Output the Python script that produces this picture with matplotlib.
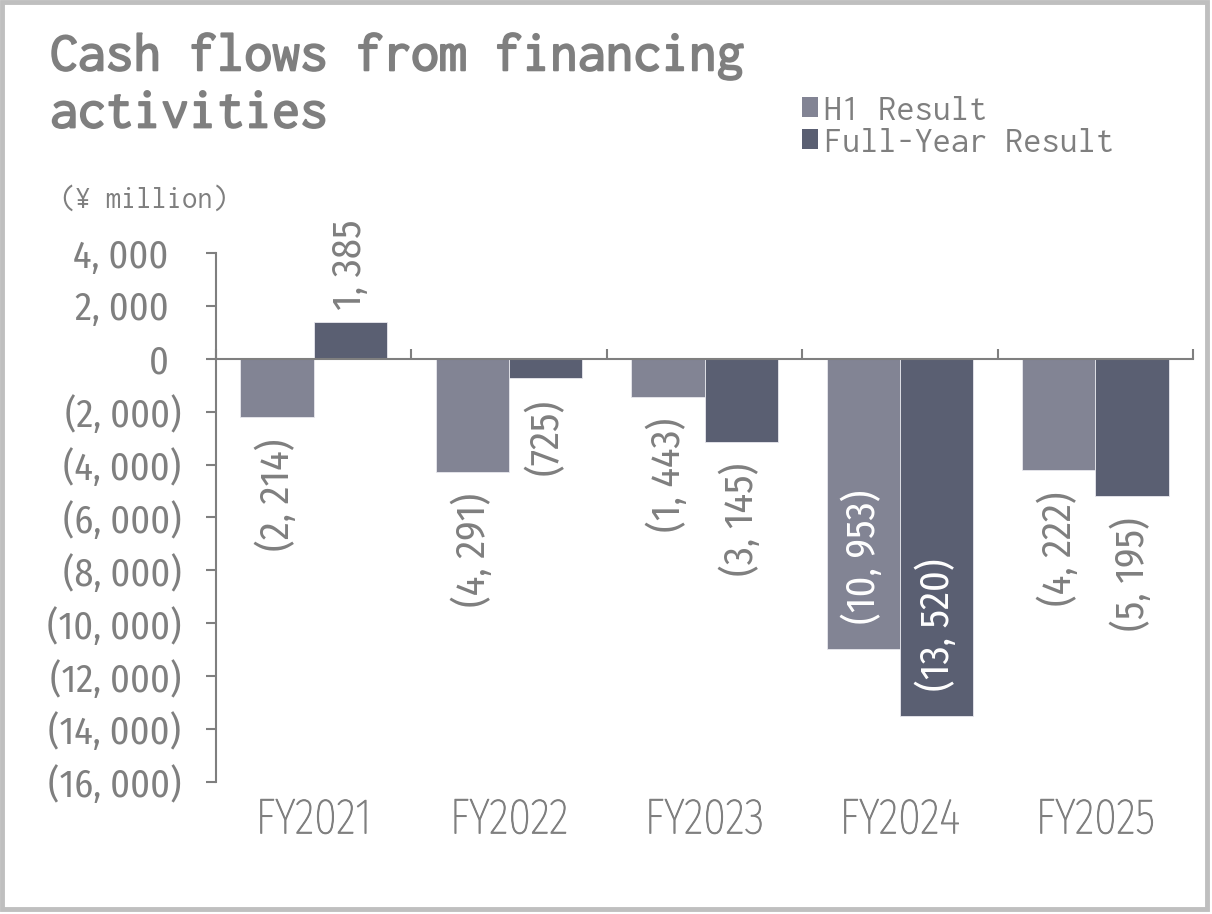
import matplotlib
matplotlib.use("Agg")
import matplotlib.pyplot as plt
from matplotlib import patheffects
from matplotlib.patches import Patch, Rectangle
from matplotlib.ticker import FuncFormatter, MultipleLocator, FixedLocator

# values in ¥ million
years = ["FY2021", "FY2022", "FY2023", "FY2024", "FY2025"]
h1_result = [-2214, -4291, -1443, -10953, -4222]
full_year = [1385, -725, -3145, -13520, -5195]
series_names = ["H1 Result", "Full-Year Result"]

H1_COLOR = "#828494"
FY_COLOR = "#5a5f72"
GRAY = "#7f7f7f"
NUM_FONT = ["Fira Sans Condensed", "DejaVu Sans"]
CAT_FONT = ["Fira Sans Extra Condensed", "DejaVu Sans"]
MONO_FONT = ["Inconsolata", "DejaVu Sans Mono"]


def fmt(v):
    s = f"{abs(v):,.0f}".replace(",", ", ")
    return f"({s})" if v < 0 else s


fig = plt.figure(figsize=(12.12, 9.14), dpi=100)
ax = fig.add_axes([216 / 1212, 1 - 782 / 914, (1193 - 216) / 1212, (782 - 253) / 914])

x = list(range(len(years)))
w = 0.375
bars_h1 = ax.bar([i - w / 2 for i in x], h1_result, width=w, color=H1_COLOR,
                 edgecolor="#e8e8ee", linewidth=0.6, zorder=2)
bars_fy = ax.bar([i + w / 2 for i in x], full_year, width=w, color=FY_COLOR,
                 edgecolor="#e8e8ee", linewidth=0.6, zorder=2)

ax.set_xlim(-0.5, len(years) - 0.5)
ax.set_ylim(-16000, 4000)

# y axis, positives get a little trailing room like the (..) ones
ax.yaxis.set_major_locator(MultipleLocator(2000))
ax.yaxis.set_major_formatter(FuncFormatter(lambda v, p: fmt(v) if v < 0 else fmt(v) + " \u200a"))
ax.tick_params(axis="y", direction="out", length=7, width=1.5, color=GRAY,
               labelcolor=GRAY, labelsize=27.5, pad=18)
for lbl in ax.get_yticklabels():
    lbl.set_family(NUM_FONT)

# x axis sits on zero, category dividers tick upward
ax.spines["bottom"].set_position(("data", 0))
ax.spines["top"].set_visible(False)
ax.spines["right"].set_visible(False)
for s in ("left", "bottom"):
    ax.spines[s].set_color(GRAY)
    ax.spines[s].set_linewidth(1.5)
ax.xaxis.set_major_locator(FixedLocator([i - 0.5 for i in range(len(years) + 1)]))
ax.tick_params(axis="x", direction="in", length=7, width=1.5, color=GRAY, labelbottom=False)

xt = ax.get_xaxis_transform()
for i, yr in enumerate(years):
    ax.text(i, -0.026, yr, transform=xt, ha="center", va="top", fontsize=36,
            color=GRAY, family=CAT_FONT, fontweight="light",
            path_effects=[patheffects.withStroke(linewidth=0.7, foreground=GRAY)])

# data labels
for bars, vals in ((bars_h1, h1_result), (bars_fy, full_year)):
    for b, v in zip(bars, vals):
        cx = b.get_x() + b.get_width() / 2
        kw = dict(textcoords="offset points", rotation=90, ha="center", fontsize=29,
                  family=NUM_FONT)
        if v >= 0:
            ax.annotate(fmt(v), (cx, v), xytext=(0, 9), va="bottom", color=GRAY, **kw)
        elif v < -8000:
            ax.annotate(fmt(v), (cx, v), xytext=(0, 18), va="bottom", color="white", **kw)
        else:
            ax.annotate(fmt(v), (cx, v), xytext=(0, -15), va="top", color=GRAY, **kw)

# title, unit, legend
fig.text(50 / 1212, 1 - 33 / 914, "Cash flows from financing\nactivities", ha="left", va="top",
         fontsize=40, color=GRAY, family=MONO_FONT, linespacing=1.3,
         path_effects=[patheffects.withStroke(linewidth=1.4, foreground=GRAY)])
fig.text(60 / 1212, 1 - 199 / 914, "(¥ million)", ha="left", va="center",
         fontsize=22, color=GRAY, family=MONO_FONT)

handles = [Patch(facecolor=H1_COLOR), Patch(facecolor=FY_COLOR)]
fig.legend(handles, series_names, loc="upper left", bbox_to_anchor=(784 / 1212, 1 - 78 / 914),
           frameon=False, labelcolor=GRAY, handlelength=0.45, handleheight=0.45,
           handletextpad=0.15, labelspacing=0.05, borderpad=0,
           prop={"family": MONO_FONT, "size": 26})

fig.patches.append(Rectangle((2 / 1212, 5 / 914), 1205 / 1212, 907 / 914, transform=fig.transFigure,
                             fill=False, edgecolor="#bfbfbf", linewidth=3.5))

fig.savefig("out.png", dpi=100, facecolor="white")
